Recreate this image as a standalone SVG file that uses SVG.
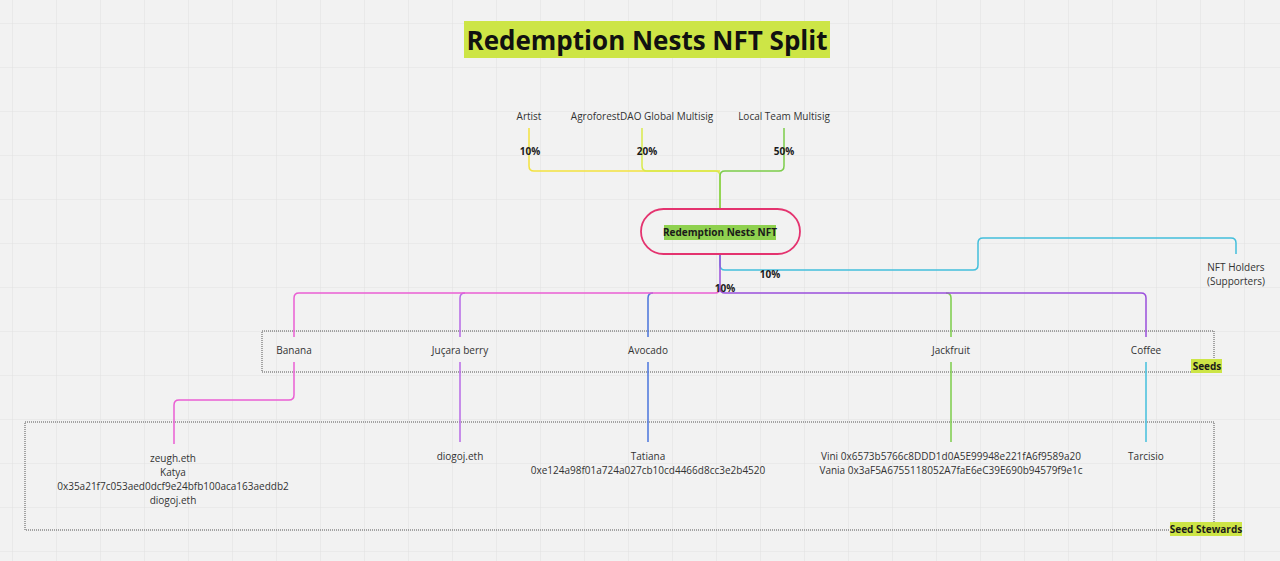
<svg xmlns="http://www.w3.org/2000/svg" width="1280" height="561" viewBox="0 0 1280 561">
<defs>
<pattern id="grid" x="12" y="23" width="44" height="44" patternUnits="userSpaceOnUse">
<path d="M0 0V44M0 0H44" fill="none" stroke="#e2e2e2" stroke-width="1.2"/>
</pattern>
<style>
text{font-family:"Open Sans","Noto Sans","Liberation Sans",sans-serif;fill:#333;font-size:10px;text-anchor:middle}
.b{font-weight:bold;fill:#1a1a1a}
.c{fill:none;stroke-width:1.5;stroke-linejoin:round}
.frame{fill:none;stroke:#555;stroke-width:1;stroke-dasharray:1 1}
</style>
</defs>
<rect width="1280" height="561" fill="#f2f2f2"/>
<rect width="1280" height="561" fill="url(#grid)"/>

<g id="title">
<rect x="464" y="21" width="366" height="37" fill="#cde546"/>
<text x="647" y="50" class="b" style="font-size:26px;fill:#111">Redemption Nests NFT Split</text>
</g>

<g id="frames">
<g id="seeds-frame">
<rect x="262" y="331" width="952" height="41" class="frame"/>
<rect x="1191" y="359" width="31" height="14" fill="#cde546"/>
<text x="1207" y="370" class="b">Seeds</text>
</g>
<g id="stewards-frame">
<rect x="25" y="422" width="1189" height="108" class="frame"/>
<rect x="1170" y="522" width="72" height="14" fill="#cde546"/>
<text x="1206" y="533" class="b">Seed Stewards</text>
</g>
</g>

<g id="connectors">
<path class="c" stroke="#f3e23f" d="M529 128V166q0 5 5 5H720"/>
<path class="c" stroke="#d9ea4b" d="M642 128V166q0 5 5 5H715q5 0 5 5V209"/>
<path class="c" stroke="#7ccd4a" d="M784 128V166q0 5 -5 5H725q-5 0 -5 5V209"/>
<path class="c" stroke="#43bfdc" d="M720 254V265q0 5 5 5H973q5 0 5-5V243q0-5 5-5H1231q5 0 5 5V254"/>
<path class="c" stroke="#7ccd4a" d="M946 293q5 0 5 5V337"/>
<path class="c" stroke="#4a74dc" d="M653 293q-5 0 -5 5V337"/>
<path class="c" stroke="#b76ae6" d="M465 293q-5 0 -5 5V337"/>
<path class="c" stroke="#ea5fd3" d="M720 288q0 5 -5 5H299q-5 0 -5 5V337"/>
<path class="c" stroke="#9b4fdc" d="M720 254V288q0 5 5 5H1141q5 0 5 5V337"/>
<path class="c" stroke="#ea5fd3" d="M294 362V395q0 5 -5 5H179q-5 0 -5 5V444"/>
<path class="c" stroke="#b76ae6" d="M460 362V442"/>
<path class="c" stroke="#4a74dc" d="M648 362V442"/>
<path class="c" stroke="#7ccd4a" d="M951 362V442"/>
<path class="c" stroke="#43bfdc" d="M1146 362V442"/>
<text x="530" y="155" class="b">10%</text>
<text x="647" y="155" class="b">20%</text>
<text x="784" y="155" class="b">50%</text>
<text x="770" y="278" class="b">10%</text>
<text x="725" y="292" class="b">10%</text>
</g>

<g id="artist"><text x="529" y="120">Artist</text></g>
<g id="global-multisig"><text x="642" y="120">AgroforestDAO Global Multisig</text></g>
<g id="local-multisig"><text x="784" y="120">Local Team Multisig</text></g>

<g id="nft">
<rect x="641" y="209" width="159" height="45" rx="22.5" fill="none" stroke="#e4336f" stroke-width="1.8"/>
<rect x="664" y="225" width="112" height="15" fill="#8fd14f"/>
<text x="720" y="236" class="b" style="font-size:10px">Redemption Nests NFT</text>
</g>

<g id="nft-holders"><text x="1236" y="271">NFT Holders</text><text x="1236" y="285">(Supporters)</text></g>

<g id="banana"><text x="294" y="354">Banana</text></g>
<g id="jucara"><text x="460" y="354">Juçara berry</text></g>
<g id="avocado"><text x="648" y="354">Avocado</text></g>
<g id="jackfruit"><text x="951" y="354">Jackfruit</text></g>
<g id="coffee"><text x="1146" y="354">Coffee</text></g>

<g id="banana-stewards">
<text x="173" y="462">zeugh.eth</text>
<text x="173" y="476">Katya</text>
<text x="173" y="490">0x35a21f7c053aed0dcf9e24bfb100aca163aeddb2</text>
<text x="173" y="504">diogoj.eth</text>
</g>
<g id="jucara-stewards"><text x="460" y="460">diogoj.eth</text></g>
<g id="avocado-stewards"><text x="648" y="460">Tatiana</text><text x="648" y="474">0xe124a98f01a724a027cb10cd4466d8cc3e2b4520</text></g>
<g id="jackfruit-stewards"><text x="951" y="460">Vini 0x6573b5766c8DDD1d0A5E99948e221fA6f9589a20</text><text x="951" y="474">Vania 0x3aF5A6755118052A7faE6eC39E690b94579f9e1c</text></g>
<g id="coffee-stewards"><text x="1146" y="460">Tarcisio</text></g>
</svg>
